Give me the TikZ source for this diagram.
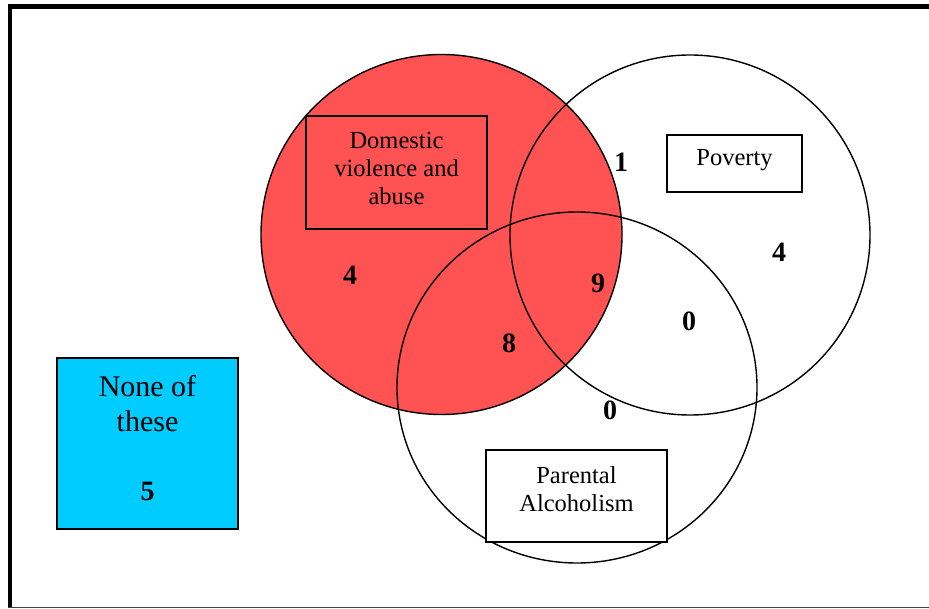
\documentclass[tikz,border=0pt]{standalone}
\usepackage{fontspec}
\setmainfont{Liberation Serif}
\usetikzlibrary{shapes.geometric}
\definecolor{dvred}{RGB}{255,82,82}
\definecolor{nonecyan}{RGB}{0,204,255}
\begin{document}
\begin{tikzpicture}[x=1pt,y=-1pt,
  setcircle/.style={ellipse,draw=black,line width=1.4pt,inner sep=0pt},
  labelbox/.style={rectangle,draw=black,line width=1.6pt,inner sep=0pt},
  boxtext/.style={align=center,inner sep=0pt,font=\fontsize{24.5}{28}\selectfont},
  count/.style={inner sep=0pt,font=\fontsize{28}{32}\selectfont\bfseries}]
\useasboundingbox (0,0) rectangle (929,609);
\fill[white] (0,0) rectangle (929,609);
% frame
\draw[line width=5pt] (8,6.5) -- (929,6.5);
\draw[line width=4pt] (10,4) -- (10,607);
\draw[line width=1.5pt,black!75] (8,607.5) -- (929,607.5);
% circles
\node[setcircle,fill=dvred,minimum width=361pt,minimum height=360pt] (dv) at (441.5,234.5) {};
\node[setcircle,minimum width=360pt,minimum height=360pt] (pov) at (690,235) {};
\node[setcircle,minimum width=360pt,minimum height=351pt] (par) at (577,387.5) {};
% label boxes
\node[labelbox,fill=dvred,minimum width=181pt,minimum height=113pt] (dvbox) at (396.5,172.5) {};
\node[boxtext] (dvtext) at (396.5,169) {Domestic\\violence and\\abuse};
\node[labelbox,fill=white,minimum width=135pt,minimum height=57pt] (povbox) at (734.5,163.5) {};
\node[boxtext] (povtext) at (734.5,160) {Poverty};
\node[labelbox,fill=white,minimum width=181pt,minimum height=92pt] (parbox) at (576.5,496) {};
\node[boxtext] (partext) at (576.5,489) {Parental\\Alcoholism};
% none of these
\node[labelbox,fill=nonecyan,minimum width=181pt,minimum height=171pt] (nonebox) at (147.5,443.5) {};
\node[align=center,inner sep=0pt,font=\fontsize{30}{35}\selectfont] (nonetext) at (147.5,404) {None of\\these};
\node[count] (nnone) at (147.5,491) {5};
% counts
\node[count] (n1) at (621,162) {1};
\node[count] (n4p) at (779,252) {4};
\node[count] (n4d) at (350,275) {4};
\node[count] (n9) at (598,283) {9};
\node[count] (n0a) at (689,321) {0};
\node[count] (n8) at (509,343) {8};
\node[count] (n0b) at (610,410) {0};
\end{tikzpicture}
\end{document}
